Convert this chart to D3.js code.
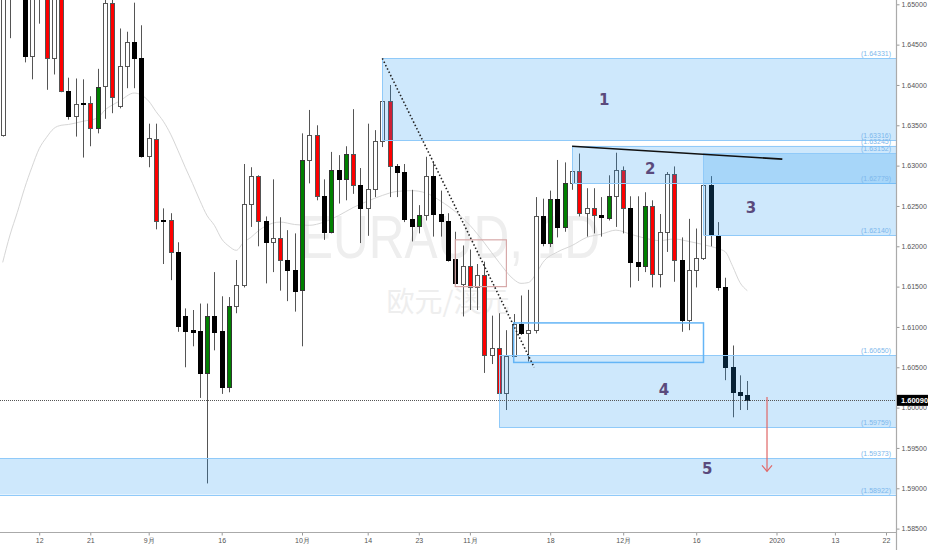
<!DOCTYPE html>
<html><head><meta charset="utf-8">
<script src="https://cdn.jsdelivr.net/npm/d3@7/dist/d3.min.js"></script>
<style>html,body{margin:0;padding:0;background:#fff;overflow:hidden}</style>
</head><body>
<svg id="c" width="932" height="550"></svg>
<script>
// ---------------- DATA ----------------
const opens=[1.6338,1.6542,1.6511,1.6524,1.6436,1.6524,1.6517,1.6434,1.6511,1.6393,
1.6361,1.6378,1.6378,1.6347,1.6399,1.6501,1.6374,1.6424,1.6453,1.6433,
1.6312,1.6333,1.6233,1.6233,1.6193,1.6114,1.6096,1.6095,1.6043,1.6114,
1.6095,1.6025,1.6126,1.6152,1.6252,1.6287,1.6231,1.6205,1.6210,1.6183,
1.6171,1.6146,1.6307,1.6338,1.6262,1.6218,1.6294,1.6283,1.6314,1.6276,
1.6247,1.6271,1.6330,1.6380,1.6299,1.6292,1.6234,1.6225,1.6239,1.6287,
1.6240,1.6231,1.6184,1.6153,1.6175,1.6149,1.6164,1.6065,1.6074,1.6018,
1.6064,1.6104,1.6092,1.6096,1.6238,1.6204,1.6259,1.6224,1.6278,1.6293,
1.6241,1.6248,1.6239,1.6235,1.6262,1.6294,1.6248,1.6181,1.6175,1.6250,
1.6166,1.6218,1.6289,1.6183,1.6109,1.6171,1.6185,1.6276,1.6214,1.6149,
1.6050,1.6019,1.6016];
const highs=[1.6555,1.6567,1.6561,1.6542,1.6530,1.6536,1.6530,1.6524,1.6520,1.6409,
1.6408,1.6407,1.6386,1.6420,1.6509,1.6509,1.6470,1.6466,1.6502,1.6474,
1.6352,1.6352,1.6247,1.6241,1.6205,1.6123,1.6121,1.6129,1.6129,1.6168,
1.6138,1.6137,1.6183,1.6302,1.6298,1.6288,1.6237,1.6283,1.6236,1.6220,
1.6216,1.6340,1.6369,1.6350,1.6283,1.6317,1.6313,1.6324,1.6370,1.6297,
1.6352,1.6344,1.6433,1.6400,1.6302,1.6302,1.6270,1.6251,1.6311,1.6305,
1.6269,1.6241,1.6218,1.6201,1.6196,1.6178,1.6181,1.6114,1.6117,1.6096,
1.6116,1.6139,1.6146,1.6261,1.6259,1.6269,1.6307,1.6304,1.6323,1.6315,
1.6272,1.6272,1.6261,1.6288,1.6316,1.6299,1.6262,1.6262,1.6267,1.6257,
1.6240,1.6292,1.6299,1.6211,1.6234,1.6222,1.6277,1.6287,1.6230,1.6161,
1.6077,1.6040,1.6033];
const lows=[1.6336,1.6458,1.6509,1.6428,1.6407,1.6476,1.6394,1.6413,1.6391,1.6357,
1.6336,1.6310,1.6324,1.6340,1.6358,1.6365,1.6371,1.6396,1.6396,1.6310,
1.6298,1.6221,1.6178,1.6158,1.6094,1.6050,1.6076,1.6012,1.5906,1.6071,
1.6017,1.6019,1.6117,1.6149,1.6224,1.6200,1.6154,1.6168,1.6145,1.6132,
1.6119,1.6076,1.6278,1.6257,1.6208,1.6216,1.6253,1.6257,1.6265,1.6204,
1.6213,1.6261,1.6323,1.6261,1.6261,1.6230,1.6206,1.6216,1.6232,1.6212,
1.6212,1.6181,1.6152,1.6113,1.6121,1.6121,1.6043,1.6054,1.6015,1.5997,
1.6063,1.6090,1.6057,1.6092,1.6200,1.6199,1.6211,1.6218,1.6270,1.6237,
1.6212,1.6216,1.6212,1.6232,1.6224,1.6216,1.6149,1.6157,1.6168,1.6149,
1.6149,1.6193,1.6156,1.6094,1.6096,1.6149,1.6183,1.6200,1.6145,1.6034,
1.5988,1.5997,1.5997];
const closes=[1.6536,1.6515,1.6542,1.6436,1.6511,1.6509,1.6434,1.6511,1.6393,1.6361,
1.6376,1.6376,1.6347,1.6398,1.6501,1.6385,1.6424,1.6453,1.6433,1.6312,
1.6334,1.6231,1.6231,1.6193,1.6101,1.6095,1.6094,1.6043,1.6114,1.6094,
1.6025,1.6126,1.6152,1.6252,1.6287,1.6231,1.6205,1.6210,1.6183,1.6171,
1.6145,1.6307,1.6338,1.6262,1.6218,1.6294,1.6283,1.6314,1.6276,1.6247,
1.6271,1.6330,1.6380,1.6299,1.6292,1.6234,1.6225,1.6239,1.6287,1.6240,
1.6231,1.6183,1.6154,1.6175,1.6149,1.6164,1.6065,1.6074,1.6018,1.6064,
1.6104,1.6092,1.6096,1.6238,1.6204,1.6259,1.6224,1.6278,1.6293,1.6241,
1.6248,1.6239,1.6236,1.6262,1.6294,1.6248,1.6181,1.6175,1.6250,1.6166,
1.6218,1.6290,1.6183,1.6109,1.6171,1.6185,1.6276,1.6215,1.6149,1.6050,
1.6019,1.6016,1.6009];
const candleColors="wbwbwrrwrbwbrgwrwwbbwrbrbbbbgbbgwwwrbwrbbgwrbgbgrbwwwrbbbgwbbbbwrwrwrwwbwwbgbgwrwrbgwrbbgrwwrbwwwbbbbbb".split("");

const maBars=[0,1,2,3,4,5,6,7,8,9,11,13,14,15,16,18,20,21,22,23,24,25,26,27,28,29,30,31,32,33,34,35,36,38,40,42,44,46,48,50,52,54,56,58,60,62,64,66,68,70,71,72,73,74,76,78,80,82,84,86,88,90,92,94,96,98,99,100,101,102];
const maValues=[1.6180,1.6214,1.6242,1.6272,1.6298,1.6321,1.6335,1.6346,1.6350,1.6351,1.6355,1.6359,1.6369,1.6375,1.6380,1.6390,1.6380,1.6367,1.6355,1.6339,1.6319,1.6298,1.6278,1.6257,1.6238,1.6226,1.6209,1.6200,1.6195,1.6205,1.6211,1.6219,1.6225,1.6230,1.6227,1.6226,1.6230,1.6238,1.6248,1.6256,1.6263,1.6268,1.6269,1.6266,1.6256,1.6243,1.6226,1.6204,1.6180,1.6159,1.6154,1.6155,1.6165,1.6180,1.6193,1.6201,1.6211,1.6215,1.6220,1.6215,1.6210,1.6207,1.6209,1.6206,1.6202,1.6197,1.6193,1.6175,1.6155,1.6145];

const priceTicks=[1.585,1.590,1.595,1.600,1.605,1.610,1.615,1.620,1.625,1.630,1.635,1.640,1.645,1.650];
const timeTickDates=["2019-08-12","2019-08-21","2019-09-02","2019-09-16","2019-10-01","2019-10-14","2019-10-23","2019-11-01","2019-11-18","2019-12-02","2019-12-16","2020-01-01","2020-01-13","2020-01-22"];
const timeTickLabels=["12","21","9月","16","10月","14","23","11月","18","12月","16","2020","13","22"];

const zoneNames=["1","2","3","4","5"];
const zoneTop=[1.64331,1.63245,1.63152,1.60650,1.59373];
const zoneBottom=[1.63316,1.62779,1.62140,1.59759,1.58922];
const zoneStartBar=[52,78,96,68,-3];
const zoneLabelBar=[82.4,88.7,102.5,90.6,96.5];
const zoneLabelPrice=[1.6382,1.6296,1.6248,1.6022,1.5924];

const lastPrice=1.60090;
const symbolText="EURAUD, 1D";
const symbolSub="欧元/澳元";

// annotations (bar index, price)
const dottedLine=[[52,1.6433],[72.8,1.6050]];
const trendLine=[[78,1.6324],[106.8,1.6308]];
const blueBox=[[70,1.6105],[96,1.6056]];
const redBox=[[62,1.6208],[69,1.6150]];
const arrowLine=[[104.7,1.6013],[104.7,1.5921]];

// ---------------- CHART ----------------
const W=932,H=550,PR=896,PB=532;
const svg=d3.select("#c");
const x=d3.scaleLinear().domain([-0.37,122.37]).range([0,PR]);
const y=d3.scaleLinear().domain([1.585,1.65]).range([528.6,4.3]);

const allDays=d3.timeDay.range(new Date(2019,7,5),new Date(2020,1,1))
  .filter(d=>d.getDay()!==0&&d.getDay()!==6&&!(d.getMonth()===11&&d.getDate()===25));
const fmt=d3.timeFormat("%Y-%m-%d");
const dayIndex=new Map(allDays.map((d,i)=>[fmt(d),i]));

svg.append("defs").append("clipPath").attr("id","clip")
  .append("rect").attr("x",0).attr("y",0).attr("width",PR).attr("height",PB);
const plot=svg.append("g").attr("clip-path","url(#clip)");

// watermark
plot.append("text").attr("x",450).attr("y",258).attr("text-anchor","middle")
  .attr("font-family","Liberation Sans, Arial, sans-serif").attr("font-size",62)
  .attr("textLength",300).attr("lengthAdjust","spacingAndGlyphs")
  .attr("fill","#eeeeee").text(symbolText);
plot.append("text").attr("x",448).attr("y",312).attr("text-anchor","middle")
  .attr("font-family","Noto Sans CJK SC, sans-serif").attr("font-size",28)
  .attr("fill","#eeeeee").text(symbolSub);

// moving average
plot.append("path").datum(maBars.map((b,i)=>[b,maValues[i]]))
  .attr("fill","none").attr("stroke","#d6d6d6").attr("stroke-width",1)
  .attr("d",d3.line().x(d=>x(d[0])).y(d=>y(d[1])).curve(d3.curveMonotoneX));

// candles
const fills={w:"#ffffff",b:"#000000",r:"#ff0000",g:"#008000"};
const strokes={w:"#555555",b:"#000000",r:"#555555",g:"#333333"};
const cg=plot.append("g");
opens.forEach((o,i)=>{
  const c=closes[i],cx=Math.round(x(i))+0.5,col=candleColors[i];
  cg.append("line").attr("x1",cx).attr("x2",cx).attr("y1",y(highs[i])).attr("y2",y(lows[i]))
    .attr("stroke","#555").attr("stroke-width",1);
  const t=Math.round(y(Math.max(o,c)))+0.5, b=Math.round(y(Math.min(o,c)))+0.5;
  cg.append("rect").attr("x",cx-2).attr("width",4).attr("y",t).attr("height",Math.max(1,b-t))
    .attr("fill",fills[col]).attr("stroke",strokes[col]).attr("stroke-width",1);
});

// zones
zoneNames.forEach((n,i)=>{
  const x0=x(zoneStartBar[i]);
  plot.append("rect").attr("x",x0).attr("y",y(zoneTop[i])).attr("width",PR-x0)
    .attr("height",y(zoneBottom[i])-y(zoneTop[i]))
    .attr("fill","rgba(33,150,243,0.22)");
  [zoneTop[i],zoneBottom[i]].forEach(p=>{
    plot.append("line").attr("x1",x0).attr("x2",PR).attr("y1",Math.round(y(p))+0.5).attr("y2",Math.round(y(p))+0.5)
      .attr("stroke","#90caf9").attr("stroke-width",1);
  });
  plot.append("line").attr("x1",Math.round(x0)+0.5).attr("x2",Math.round(x0)+0.5)
    .attr("y1",y(zoneTop[i])).attr("y2",y(zoneBottom[i])).attr("stroke","#90caf9").attr("stroke-width",1);
});
zoneNames.forEach((n,i)=>{
  plot.append("text").attr("x",x(zoneLabelBar[i])).attr("y",y(zoneLabelPrice[i])).attr("dy","0.36em")
    .attr("text-anchor","middle").attr("font-family","DejaVu Sans, sans-serif").attr("font-weight","bold")
    .attr("font-size",15).attr("fill","#5a4a7c").text(n);
});
// zone price labels
const zonePrices=[...zoneTop,...zoneBottom].sort((a,b)=>b-a);
zonePrices.forEach(p=>{
  plot.append("text").attr("x",891).attr("y",y(p)-2).attr("text-anchor","end")
    .attr("font-family","Liberation Sans, Arial, sans-serif").attr("font-size",7)
    .attr("fill","#7db7ec").text("("+p.toFixed(5)+")");
});

// boxes
plot.append("rect").attr("x",x(blueBox[0][0])).attr("y",y(blueBox[0][1]))
  .attr("width",x(blueBox[1][0])-x(blueBox[0][0])).attr("height",y(blueBox[1][1])-y(blueBox[0][1]))
  .attr("fill","none").attr("stroke","#64b5f6").attr("stroke-width",1.5);
plot.append("rect").attr("x",x(redBox[0][0])).attr("y",y(redBox[0][1]))
  .attr("width",x(redBox[1][0])-x(redBox[0][0])).attr("height",y(redBox[1][1])-y(redBox[0][1]))
  .attr("fill","none").attr("stroke","#d7a9a9").attr("stroke-width",1.2);

// lines
const ln=d3.line().x(d=>x(d[0])).y(d=>y(d[1]));
plot.append("path").datum(dottedLine).attr("d",ln).attr("fill","none")
  .attr("stroke","#222").attr("stroke-width",1.6).attr("stroke-dasharray","1.5,2.2");
plot.append("path").datum(trendLine).attr("d",ln).attr("fill","none")
  .attr("stroke","#111").attr("stroke-width",1.6);
// last price line
plot.append("line").attr("x1",0).attr("x2",PR).attr("y1",Math.round(y(lastPrice))+0.5).attr("y2",Math.round(y(lastPrice))+0.5)
  .attr("stroke","#555").attr("stroke-width",1).attr("stroke-dasharray","1,1");
// arrow
plot.append("path").datum(arrowLine).attr("d",ln).attr("fill","none").attr("stroke","#e06666").attr("stroke-width",1.2);
const ax=x(arrowLine[1][0]),ay=y(arrowLine[1][1]);
plot.append("path").attr("d",`M${ax-5},${ay-6}L${ax},${ay}L${ax+5},${ay-6}`)
  .attr("fill","none").attr("stroke","#e06666").attr("stroke-width",1.2);

// axes
const yAxis=d3.axisRight(y).tickValues(priceTicks).tickFormat(d3.format(".5f")).tickSize(3).tickPadding(2);
const gy=svg.append("g").attr("transform",`translate(${PR+0.5},0)`).call(yAxis);
gy.select(".domain").remove();
svg.append("line").attr("x1",PR+0.5).attr("x2",PR+0.5).attr("y1",0).attr("y2",H).attr("stroke","#aaa").attr("stroke-width",1.2);
gy.selectAll(".tick line").attr("stroke","#999");
gy.selectAll(".tick text").attr("font-family","Liberation Sans, Arial, sans-serif").attr("font-size",7).attr("fill","#555");

const xAxis=d3.axisBottom(x).tickValues(timeTickDates.map(s=>dayIndex.get(s)))
  .tickFormat((d,i)=>timeTickLabels[i]).tickSize(3).tickPadding(3);
const gx=svg.append("g").attr("transform",`translate(0,${PB+0.5})`).call(xAxis);
gx.select(".domain").remove();
svg.append("line").attr("x1",0).attr("x2",PR).attr("y1",PB+0.5).attr("y2",PB+0.5).attr("stroke","#aaa").attr("stroke-width",1.2);
gx.selectAll(".tick line").attr("stroke","#999");
gx.selectAll(".tick text").attr("font-family","Liberation Sans, Arial, sans-serif").attr("font-size",7).attr("fill","#555");

// last price label
const ly=y(lastPrice);
svg.append("rect").attr("x",PR+1).attr("y",ly-5.5).attr("width",31).attr("height",11).attr("fill","#000");
svg.append("text").attr("x",PR+5).attr("y",ly).attr("dy","0.35em")
  .attr("font-family","Liberation Sans, Arial, sans-serif").attr("font-size",7.5).attr("font-weight","bold")
  .attr("fill","#fff").text(lastPrice.toFixed(5));
</script>
</body></html>
